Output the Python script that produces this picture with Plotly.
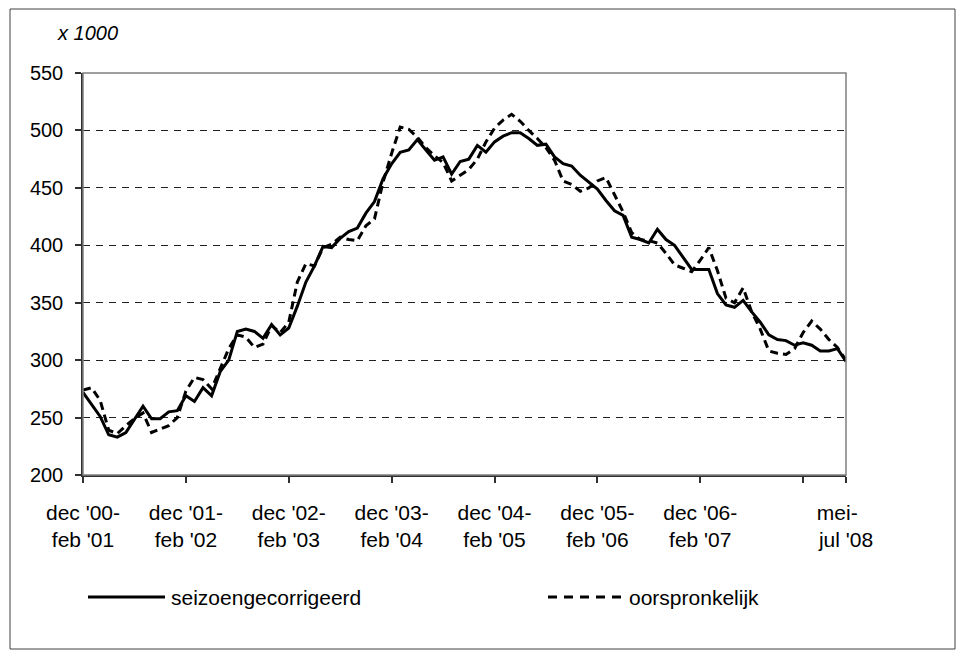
import plotly.graph_objects as go

# ---- data (x 1000) ----
period_index = list(range(90))  # dec '00-feb '01 ... mei-jul '08 (rolling 3-month periods)

seizoengecorrigeerd = [
    272, 261, 251, 235, 233, 237, 248, 260, 249, 249,
    255, 256, 269, 264, 276, 269, 290, 300, 325, 327,
    325, 319, 331, 322, 328, 347, 368, 382, 399, 398,
    406, 412, 415, 428, 438, 458, 471, 481, 483, 492,
    483, 474, 477, 462, 473, 475, 487, 481, 490, 495,
    498, 498, 493, 487, 488, 477, 471, 469, 461, 455,
    449, 439, 430, 426, 407, 405, 402, 414, 405, 400,
    390, 379, 379, 379, 358, 348, 346, 352, 342, 333,
    322, 318, 317, 313, 315, 313, 308, 308, 310, 299,
]

oorspronkelijk = [
    274, 276, 265, 239, 236, 243, 249, 254, 237, 240,
    243, 250, 273, 285, 283, 275, 292, 310, 322, 320,
    311, 314, 330, 324, 333, 368, 384, 382, 398, 401,
    407, 405, 404, 417, 423, 455, 480, 503, 501, 494,
    485, 478, 472, 456, 461, 466, 475, 490, 502, 509,
    514, 508, 500, 493, 485, 474, 456, 453, 447, 450,
    456, 459, 444, 429, 411, 405, 404, 402, 393, 383,
    380, 377, 387, 398, 378, 354, 350, 363, 342, 327,
    308, 306, 305, 310, 324, 334, 327, 318, 311, 300,
]

tick_positions = [0, 12, 24, 36, 48, 60, 72, 84, 89]
tick_labels = [
    "dec '00-<br>feb '01", "dec '01-<br>feb '02", "dec '02-<br>feb '03",
    "dec '03-<br>feb '04", "dec '04-<br>feb '05", "dec '05-<br>feb '06",
    "dec '06-<br>feb '07", "", "mei-\u00a0\u00a0\u00a0\u200b<br>jul '08",
]
y_ticks = [200, 250, 300, 350, 400, 450, 500, 550]

series_names = ["seizoengecorrigeerd", "oorspronkelijk"]

FONT = "Liberation Sans, Arial, sans-serif"
FS = 20

# page has an 8px body margin; figure sized to fit the 965x655 window
OFF = 8
W, H = 965 - OFF, 655 - OFF
L, R, T, B = 75, 119, 65, 180
PW, PH = W - L - R, H - T - B


def px(xs):
    """screen x (pixels in window) -> paper x"""
    return (xs - OFF - L) / PW


def py(ys):
    """screen y (pixels in window) -> paper y"""
    return (H - B - (ys - OFF)) / PH


fig = go.Figure()
fig.add_trace(go.Scatter(
    x=period_index, y=oorspronkelijk, mode="lines", name=series_names[1],
    line=dict(color="black", width=3, dash="8px,5px"), showlegend=False,
))
fig.add_trace(go.Scatter(
    x=period_index, y=seizoengecorrigeerd, mode="lines", name=series_names[0],
    line=dict(color="black", width=3), showlegend=False,
))

shapes = [
    # plot area border (gray)
    dict(type="rect", xref="paper", yref="paper", x0=0, x1=1, y0=0, y1=1,
         line=dict(color="#808080", width=1.5), layer="above"),
    # outer chart border
    dict(type="rect", xref="paper", yref="paper", x0=px(10), x1=px(955),
         y0=py(649), y1=py(9), line=dict(color="#404040", width=1)),
    # legend samples
    dict(type="line", xref="paper", yref="paper", x0=px(88), x1=px(165),
         y0=py(597), y1=py(597), line=dict(color="black", width=3)),
    dict(type="line", xref="paper", yref="paper", x0=px(548), x1=px(624),
         y0=py(597), y1=py(597), line=dict(color="black", width=3, dash="9px,7px")),
]

annotations = [
    dict(text="<i>x 1000</i>", xref="paper", yref="paper", x=px(55), y=py(33),
         xanchor="left", yanchor="middle", showarrow=False,
         font=dict(family=FONT, size=FS, color="black")),
    dict(text=series_names[0], xref="paper", yref="paper", x=px(169), y=py(597),
         xanchor="left", yanchor="middle", showarrow=False,
         font=dict(family=FONT, size=21, color="black")),
    dict(text=series_names[1], xref="paper", yref="paper", x=px(627), y=py(597),
         xanchor="left", yanchor="middle", showarrow=False,
         font=dict(family=FONT, size=21, color="black")),
]

fig.update_layout(
    width=W, height=H,
    margin=dict(l=L, r=R, t=T, b=B, pad=0),
    paper_bgcolor="white", plot_bgcolor="white",
    font=dict(family=FONT, size=FS, color="black"),
    shapes=shapes, annotations=annotations,
    showlegend=False,
)
fig.update_xaxes(
    range=[0, 89], tickmode="array", tickvals=tick_positions, ticktext=tick_labels,
    showgrid=False, zeroline=False, showline=True, linecolor="#303030", linewidth=1.5,
    ticks="outside", ticklen=6, tickcolor="#303030", tickwidth=1.5,
    ticklabelstandoff=12, tickangle=0, tickfont=dict(size=21),
)
fig.update_yaxes(
    range=[200, 550], tickmode="array", tickvals=y_ticks,
    showgrid=True, gridcolor="#202020", griddash="7px,6px", gridwidth=1,
    zeroline=False, showline=True, linecolor="#303030", linewidth=1.5,
    ticks="outside", ticklen=6, tickcolor="#303030", tickwidth=1.5,
    ticklabelstandoff=8,
)

fig.write_html("out.html")
